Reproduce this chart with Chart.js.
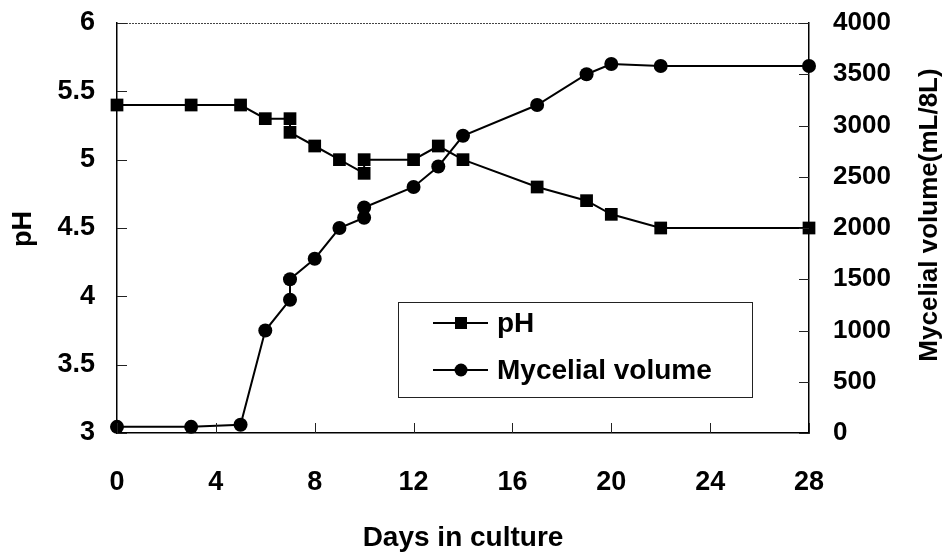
<!DOCTYPE html>
<html>
<head>
<meta charset="utf-8">
<script src="https://cdn.jsdelivr.net/npm/chart.js@4.4.0/dist/chart.umd.min.js"></script>
<style>
  html, body { margin: 0; padding: 0; background: #fff; }
</style>
</head>
<body>
<canvas id="cultureChart" width="946" height="553"></canvas>
<script>
// days sampled (some days measured twice)
const phDays = [0, 3, 5, 6, 7, 7, 8, 9, 10, 10, 12, 13, 14, 17, 19, 20, 22, 28];
const phValues = [5.4, 5.4, 5.4, 5.3, 5.3, 5.2, 5.1, 5.0, 4.9, 5.0, 5.0, 5.1, 5.0, 4.8, 4.7, 4.6, 4.5, 4.5];

const volDays = [0, 3, 5, 6, 7, 7, 8, 9, 10, 10, 12, 13, 14, 17, 19, 20, 22, 28];
const volValues = [60, 60, 80, 1000, 1300, 1500, 1700, 2000, 2100, 2200, 2400, 2600, 2900, 3200, 3500, 3600, 3580, 3580];

const dayTicks = [0, 4, 8, 12, 16, 20, 24, 28];
const phTicks = [3, 3.5, 4, 4.5, 5, 5.5, 6];
const volTicks = [0, 500, 1000, 1500, 2000, 2500, 3000, 3500, 4000];

const FONT = 'Liberation Sans, Arial, sans-serif';

function points(xs, ys) {
    return xs.map((x, i) => ({ x: x, y: ys[i] }));
}

// frame, inward tick marks, axis titles and the boxed legend
const decorations = {
    id: 'decorations',
    afterDraw(chart) {
        const ctx = chart.ctx;
        const area = chart.chartArea;
        const sx = chart.scales.x, sl = chart.scales.y, sr = chart.scales.y1;

        ctx.save();
        // top edge of the frame
        ctx.strokeStyle = '#444';
        ctx.lineWidth = 1;
        ctx.setLineDash([2, 1]);
        ctx.beginPath();
        ctx.moveTo(area.left, area.top + 0.5);
        ctx.lineTo(area.right, area.top + 0.5);
        ctx.stroke();
        ctx.setLineDash([]);

        // tick marks pointing into the plot
        ctx.strokeStyle = '#222';
        ctx.lineWidth = 1;
        ctx.beginPath();
        phTicks.forEach(v => {
            const y = Math.round(sl.getPixelForValue(v)) + 0.5;
            ctx.moveTo(area.left, y);
            ctx.lineTo(area.left + 10, y);
        });
        volTicks.forEach(v => {
            const y = Math.round(sr.getPixelForValue(v)) + 0.5;
            ctx.moveTo(area.right, y);
            ctx.lineTo(area.right - 10, y);
        });
        dayTicks.forEach(v => {
            const x = Math.round(sx.getPixelForValue(v)) + 0.5;
            ctx.moveTo(x, area.bottom);
            ctx.lineTo(x, area.bottom - 10);
        });
        ctx.stroke();

        // axis titles
        ctx.fillStyle = '#000';
        ctx.textAlign = 'center';
        ctx.textBaseline = 'middle';
        ctx.font = 'bold 28px ' + FONT;
        ctx.fillText('Days in culture', (area.left + area.right) / 2, 538);

        ctx.save();
        ctx.translate(24, 229);
        ctx.rotate(-Math.PI / 2);
        ctx.font = 'bold 27px ' + FONT;
        ctx.fillText('pH', 0, 0);
        ctx.restore();

        ctx.save();
        ctx.translate(930, 215);
        ctx.rotate(-Math.PI / 2);
        ctx.font = 'bold 26px ' + FONT;
        ctx.fillText('Mycelial volume(mL/8L)', 0, 0);
        ctx.restore();

        // legend box
        const box = { left: 398, top: 302, right: 752, bottom: 397 };
        ctx.fillStyle = '#fff';
        ctx.fillRect(box.left, box.top, box.right - box.left, box.bottom - box.top);
        ctx.strokeStyle = '#222';
        ctx.lineWidth = 1;
        ctx.strokeRect(box.left + 0.5, box.top + 0.5, box.right - box.left, box.bottom - box.top);

        const rows = [323, 370];
        chart.data.datasets.forEach((ds, i) => {
            const y = rows[i];
            ctx.strokeStyle = '#000';
            ctx.lineWidth = 2;
            ctx.beginPath();
            ctx.moveTo(433, y);
            ctx.lineTo(488, y);
            ctx.stroke();
            ctx.fillStyle = '#000';
            if (ds.pointStyle === 'rect') {
                ctx.fillRect(461 - 6, y - 6, 12, 12);
            } else {
                ctx.beginPath();
                ctx.arc(461, y, 6.5, 0, Math.PI * 2);
                ctx.fill();
            }
            ctx.textAlign = 'left';
            ctx.font = 'bold 28px ' + FONT;
            ctx.fillText(ds.label, 497, y + 1);
        });
        ctx.restore();
    }
};

const ctx = document.getElementById('cultureChart').getContext('2d');
new Chart(ctx, {
    type: 'line',
    data: {
        datasets: [{
            label: 'pH',
            data: points(phDays, phValues),
            yAxisID: 'y',
            borderColor: '#000',
            backgroundColor: '#000',
            borderWidth: 2,
            pointStyle: 'rect',
            pointRadius: 9,
            pointBorderWidth: 0,
            tension: 0,
            clip: false
        }, {
            label: 'Mycelial volume',
            data: points(volDays, volValues),
            yAxisID: 'y1',
            borderColor: '#000',
            backgroundColor: '#000',
            borderWidth: 2,
            pointStyle: 'circle',
            pointRadius: 7,
            pointBorderWidth: 0,
            tension: 0,
            clip: false
        }]
    },
    options: {
        responsive: false,
        animation: false,
        layout: { padding: { top: 23 } },
        plugins: {
            legend: { display: false },
            tooltip: { enabled: false }
        },
        scales: {
            x: {
                type: 'linear',
                min: 0,
                max: 28,
                afterFit: s => { s.height = 120; },
                afterBuildTicks: s => { s.ticks = dayTicks.map(v => ({ value: v })); },
                // hidden tick marks only reserve the gap before the labels
                grid: { display: false, drawTicks: true, tickLength: 33 },
                border: { display: true, color: '#000', width: 1.5 },
                ticks: {
                    color: '#000',
                    padding: 0,
                    maxRotation: 0,
                    font: { family: FONT, size: 27, weight: 'bold' },
                    callback: v => String(v)
                }
            },
            y: {
                position: 'left',
                min: 3,
                max: 6,
                afterFit: s => { s.width = 117; },
                afterBuildTicks: s => { s.ticks = phTicks.map(v => ({ value: v })); },
                grid: { display: false, drawTicks: true, tickLength: 22 },
                border: { display: true, color: '#000', width: 1.5 },
                ticks: {
                    color: '#000',
                    padding: 0,
                    font: { family: FONT, size: 27, weight: 'bold' },
                    callback: v => String(v)
                }
            },
            y1: {
                position: 'right',
                min: 0,
                max: 4000,
                afterFit: s => { s.width = 137; },
                afterBuildTicks: s => { s.ticks = volTicks.map(v => ({ value: v })); },
                grid: { display: false, drawTicks: true, tickLength: 24 },
                border: { display: true, color: '#000', width: 1.5 },
                ticks: {
                    color: '#000',
                    padding: 0,
                    font: { family: FONT, size: 26, weight: 'bold' },
                    callback: v => String(v)
                }
            }
        }
    },
    plugins: [decorations]
});
</script>
</body>
</html>
